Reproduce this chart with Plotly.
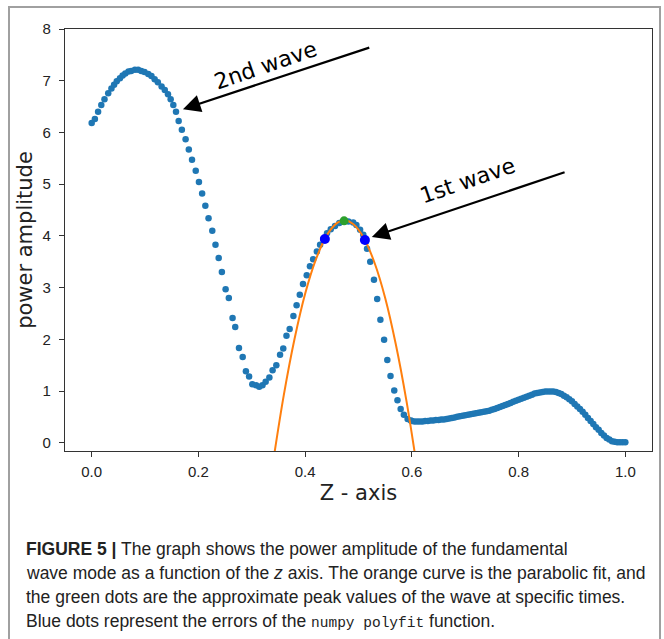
import plotly.graph_objects as go

# ---------------- data ----------------
z_vals = [
    0.000, 0.006, 0.012, 0.018, 0.024, 0.031, 0.037, 0.042, 0.047, 0.053,
    0.058, 0.063, 0.069, 0.074, 0.081, 0.087, 0.093, 0.099, 0.106, 0.112,
    0.118, 0.124, 0.131, 0.137, 0.143, 0.148, 0.153, 0.158, 0.163, 0.169,
    0.176, 0.182, 0.188, 0.195, 0.201, 0.207, 0.213, 0.219, 0.226, 0.232,
    0.238, 0.244, 0.251, 0.257, 0.264, 0.269, 0.276, 0.283, 0.289, 0.295,
    0.301, 0.308, 0.314, 0.320, 0.326, 0.333, 0.339, 0.346, 0.353, 0.359,
    0.365, 0.371, 0.378, 0.384, 0.390, 0.396, 0.403, 0.409, 0.415, 0.422,
    0.428, 0.434, 0.441, 0.448, 0.456, 0.464, 0.473, 0.481, 0.490, 0.496,
    0.503, 0.509, 0.514, 0.516, 0.522, 0.529, 0.535, 0.541, 0.548, 0.554,
    0.560, 0.567, 0.573, 0.579, 0.585, 0.592, 0.598,
    0.600, 0.605, 0.610, 0.615, 0.620, 0.625, 0.630, 0.635, 0.640, 0.645,
    0.650, 0.655, 0.660, 0.665, 0.670, 0.675, 0.680, 0.685, 0.690, 0.695,
    0.700, 0.705, 0.710, 0.715, 0.720, 0.725, 0.730, 0.735, 0.740, 0.745,
    0.750, 0.755, 0.760, 0.765, 0.770, 0.775, 0.780, 0.785, 0.790, 0.795,
    0.800, 0.805, 0.810, 0.815, 0.820, 0.825, 0.830, 0.835, 0.840, 0.845,
    0.850, 0.855, 0.860, 0.865, 0.870, 0.875, 0.880, 0.885, 0.890, 0.895,
    0.900, 0.905, 0.910, 0.915, 0.920, 0.925, 0.930, 0.935, 0.940, 0.945,
    0.950, 0.955, 0.960, 0.965, 0.970, 0.975, 0.980, 0.985, 0.990, 0.995,
    1.000,
]
power_vals = [
    6.18, 6.26, 6.40, 6.53, 6.64, 6.76, 6.85, 6.92, 6.99, 7.05,
    7.10, 7.14, 7.18, 7.19, 7.21, 7.21, 7.19, 7.17, 7.13, 7.09,
    7.03, 6.97, 6.89, 6.82, 6.74, 6.64, 6.53, 6.40, 6.22, 6.05,
    5.87, 5.67, 5.47, 5.26, 5.04, 4.82, 4.58, 4.34, 4.10, 3.83,
    3.57, 3.30, 2.97, 2.80, 2.41, 2.24, 1.83, 1.66, 1.38, 1.28,
    1.13, 1.11, 1.08, 1.11, 1.18, 1.26, 1.40, 1.50, 1.70, 1.82,
    2.07, 2.20, 2.45, 2.66, 2.86, 3.07, 3.24, 3.41, 3.55, 3.70,
    3.83, 3.94, 4.05, 4.13, 4.19, 4.25, 4.28, 4.28, 4.26, 4.21,
    4.12, 4.02, 3.89, 3.75, 3.50, 3.15, 2.78, 2.38, 1.99, 1.60,
    1.29, 1.01, 0.82, 0.65, 0.54, 0.46, 0.43,
    0.42, 0.41, 0.41, 0.41, 0.41, 0.42, 0.42, 0.43, 0.43, 0.44,
    0.44, 0.45, 0.45, 0.46, 0.47, 0.48, 0.49, 0.50, 0.51, 0.52,
    0.53, 0.54, 0.55, 0.56, 0.57, 0.58, 0.59, 0.60, 0.61, 0.62,
    0.64, 0.65, 0.67, 0.69, 0.71, 0.73, 0.75, 0.77, 0.79, 0.81,
    0.83, 0.85, 0.87, 0.89, 0.91, 0.93, 0.95, 0.96, 0.97, 0.98,
    0.99, 0.99, 0.99, 0.99, 0.98, 0.96, 0.94, 0.91, 0.88, 0.84,
    0.80, 0.75, 0.70, 0.65, 0.60, 0.54, 0.48, 0.42, 0.36, 0.30,
    0.25, 0.19, 0.14, 0.09, 0.06, 0.03, 0.02, 0.01, 0.01, 0.01,
    0.01,
]

# parabolic fit curve
fit_z = [0.340, 0.360, 0.380, 0.400, 0.420, 0.440, 0.460, 0.474,
         0.490, 0.510, 0.530, 0.550, 0.570, 0.590, 0.610]
fit_power = [-0.37, 0.92, 2.00, 2.88, 3.54, 4.00, 4.25, 4.30,
             4.23, 3.96, 3.48, 2.80, 1.90, 0.80, -0.51]

# peak (green) and error (blue) points
peak_z = [0.473]
peak_power = [4.29]
err_z = [0.437, 0.512]
err_power = [3.94, 3.92]

x_ticks = [0.0, 0.2, 0.4, 0.6, 0.8, 1.0]
y_ticks = [0, 1, 2, 3, 4, 5, 6, 7, 8]

# annotations
labels = ["2nd wave", "1st wave"]
arrow_head = [(0.171, 6.45), (0.525, 3.98)]
arrow_tail = [(0.523, 7.65), (0.889, 5.24)]
text_pos = [(0.325, 7.30), (0.705, 5.07)]

caption_bold = "FIGURE 5 |"
caption_lines = [
    " The graph shows the power amplitude of the fundamental",
    "wave mode as a function of the <i>z</i> axis. The orange curve is the parabolic fit, and",
    "the green dots are the approximate peak values of the wave at specific times.",
    "Blue dots represent the errors of the ",
]
caption_code = "numpy polyfit"
caption_tail = " function."

# ---------------- layout geometry ----------------
W, H = 664, 639
L, R, T, B = 65, 12, 29, 188
pw, ph = W - L - R, H - T - B


def px2paper(xp, yp):
    return (xp - L) / pw, (H - B - yp) / ph


fig = go.Figure()
fig.add_trace(go.Scatter(x=z_vals, y=power_vals, mode="markers",
                         marker=dict(color="#1f77b4", size=6.5, line=dict(width=0)),
                         showlegend=False))
fig.add_trace(go.Scatter(x=fit_z, y=fit_power, mode="lines", line_shape="spline",
                         line=dict(color="#ff7f0e", width=2), showlegend=False))
fig.add_trace(go.Scatter(x=err_z, y=err_power, mode="markers",
                         marker=dict(color="#0000ff", size=10, line=dict(width=0)),
                         showlegend=False))
fig.add_trace(go.Scatter(x=peak_z, y=peak_power, mode="markers",
                         marker=dict(color="#2ca02c", size=9, line=dict(width=0)),
                         showlegend=False))

annos = []
for lab, hd, tl, tp in zip(labels, arrow_head, arrow_tail, text_pos):
    annos.append(dict(x=hd[0], y=hd[1], ax=tl[0], ay=tl[1], xref="x", yref="y",
                      axref="x", ayref="y", text="", showarrow=True,
                      arrowhead=2, arrowsize=1.6, arrowwidth=2.2, arrowcolor="black"))
    annos.append(dict(x=tp[0], y=tp[1], xref="x", yref="y", text=lab, showarrow=False,
                      textangle=-19, font=dict(family="DejaVu Sans", size=22, color="black")))

cap_font = dict(family="Liberation Sans, Arial", size=17.5, color="#222")
code_style = "font-family:Liberation Mono, Courier New, monospace;font-size:14.5px"
line_y = [549, 573, 597, 621]
for i, ln in enumerate(caption_lines):
    txt = ln
    if i == 0:
        txt = "<b>" + caption_bold + "</b>" + ln
    if i == 3:
        txt = ln + '<span style="' + code_style + '">' + caption_code + "</span>" + caption_tail
    px, py = px2paper(24, line_y[i])
    annos.append(dict(x=px, y=py, xref="paper", yref="paper", text=txt, showarrow=False,
                      xanchor="left", yanchor="middle", align="left", font=cap_font))

x0, y0 = px2paper(9, 7)
x1, y1 = px2paper(660, 700)
shapes = [dict(type="rect", xref="paper", yref="paper", x0=x0, y0=y1, x1=x1, y1=y0,
               line=dict(color="#a0a0a0", width=2), layer="below")]

axis_font = dict(family="Liberation Sans, Arial", size=15, color="#222")
title_font = dict(family="DejaVu Sans", size=21, color="#222")
fig.update_layout(
    width=W, height=H, margin=dict(l=L, r=R, t=T, b=B, pad=0),
    paper_bgcolor="white", plot_bgcolor="white",
    annotations=annos, shapes=shapes,
    xaxis=dict(range=[-0.05, 1.05], tickvals=x_ticks, ticktext=[f"{v:.1f}" for v in x_ticks],
               showline=True, linecolor="#333", linewidth=1.2, mirror=True,
               ticks="outside", ticklen=5, tickcolor="#333", showgrid=False, zeroline=False,
               tickfont=axis_font, ticklabelstandoff=2,
               title=dict(text="Z - axis", font=title_font, standoff=6)),
    yaxis=dict(range=[-0.16, 8], tickvals=y_ticks,
               showline=True, linecolor="#333", linewidth=1.2, mirror=True,
               ticks="outside", ticklen=5, tickcolor="#333", showgrid=False, zeroline=False,
               tickfont=axis_font, ticklabelstandoff=5,
               title=dict(text="power amplitude", font=title_font, standoff=4)),
)

fig.write_html("out.html")
